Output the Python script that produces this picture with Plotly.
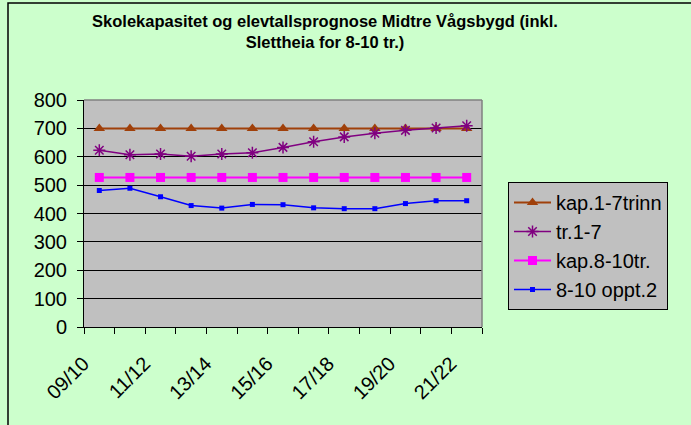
import plotly.graph_objects as go

categories = ["09/10", "10/11", "11/12", "12/13", "13/14", "14/15", "15/16",
              "16/17", "17/18", "18/19", "19/20", "20/21", "21/22"]
kap_1_7 = [700, 700, 700, 700, 700, 700, 700, 700, 700, 700, 700, 700, 700]
tr_1_7 = [623, 607, 610, 602, 610, 614, 633, 653, 670, 683, 693, 701, 709]
kap_8_10 = [527, 527, 527, 527, 527, 527, 527, 527, 527, 527, 527, 527, 527]
oppt_8_10 = [481, 489, 459, 428, 419, 432, 431, 420, 417, 417, 435, 445, 445]

yticks = [0, 100, 200, 300, 400, 500, 600, 700, 800]

xpos = list(range(len(categories)))
FONT = "Liberation Sans, Arial, sans-serif"

fig = go.Figure()
fig.add_trace(go.Scatter(x=xpos, y=kap_1_7, name="kap.1-7trinn", mode="lines+markers",
                         line=dict(color="#A0400A", width=2),
                         marker=dict(symbol="triangle-up", size=10, color="#A0400A")))
fig.add_trace(go.Scatter(x=xpos, y=tr_1_7, name="tr.1-7", mode="lines+markers",
                         line=dict(color="#800080", width=1.5),
                         marker=dict(symbol="asterisk-open", size=10,
                                     line=dict(color="#800080", width=1.5))))
fig.add_trace(go.Scatter(x=xpos, y=kap_8_10, name="kap.8-10tr.", mode="lines+markers",
                         line=dict(color="#FF00FF", width=2),
                         marker=dict(symbol="square", size=9, color="#FF00FF")))
fig.add_trace(go.Scatter(x=xpos, y=oppt_8_10, name="8-10 oppt.2", mode="lines+markers",
                         line=dict(color="#0000FF", width=1.5),
                         marker=dict(symbol="square", size=5, color="#0000FF")))

L, R, T, B = 84, 209, 100, 98
fig.update_layout(
    width=691, height=425,
    margin=dict(l=L, r=R, t=T, b=B),
    paper_bgcolor="#CCFFCC",
    plot_bgcolor="#C0C0C0",
    font=dict(family=FONT, color="black", size=20),
    title=dict(text="<b>Skolekapasitet og elevtallsprognose Midtre Vågsbygd (inkl.<br>Slettheia for 8-10 tr.)</b>",
               x=325 / 691, xanchor="center", xref="container",
               y=1 - 27 / 425, yanchor="top", yref="container",
               font=dict(family=FONT, size=16.5, color="black")),
    showlegend=True,
    legend=dict(x=(508 - L) / 398, xanchor="left", y=(327 - 182) / 227, yanchor="top",
                bgcolor="#C0C0C0", bordercolor="black", borderwidth=1,
                font=dict(family=FONT, size=20, color="black"),
                tracegroupgap=0, itemwidth=37),
)
fig.update_xaxes(
    range=[-0.5, len(categories) - 0.5],
    tickmode="array", tickvals=xpos[::2], ticktext=categories[::2],
    tickangle=-45, ticks="outside", ticklen=16, tickcolor="rgba(0,0,0,0)",
    ticklabelshift=-16,
    showgrid=False, zeroline=False,
    showline=True, linecolor="black", linewidth=1,
    minor=dict(tickmode="array", tickvals=[i - 0.5 for i in range(len(categories) + 1)],
               ticks="outside", ticklen=6, tickcolor="black", showgrid=False),
    tickfont=dict(size=20),
)
fig.update_yaxes(
    range=[0, 800], tickmode="array", tickvals=yticks,
    ticks="outside", ticklen=6, tickcolor="black",
    showgrid=True, gridcolor="black", gridwidth=1, zeroline=False,
    showline=True, linecolor="black", linewidth=1,
    ticklabelstandoff=6,
    tickfont=dict(size=20),
)
# plot area top/right border (gray)
fig.add_shape(type="line", xref="paper", yref="paper", x0=0, x1=1, y0=1, y1=1,
              line=dict(color="#808080", width=1.5), layer="above")
fig.add_shape(type="line", xref="paper", yref="paper", x0=1, x1=1, y0=0, y1=1,
              line=dict(color="#808080", width=1.5), layer="above")
# outer chart border
fig.add_shape(type="rect", xref="paper", yref="paper",
              x0=(8 - L) / 398, x1=(700 - L) / 398, y0=(327 - 440) / 227, y1=(327 - 3) / 227,
              line=dict(color="black", width=1.5), fillcolor="rgba(0,0,0,0)", layer="below")

fig.write_html("out.html", config={"displayModeBar": False},
               post_script="document.body.style.margin='0';")
